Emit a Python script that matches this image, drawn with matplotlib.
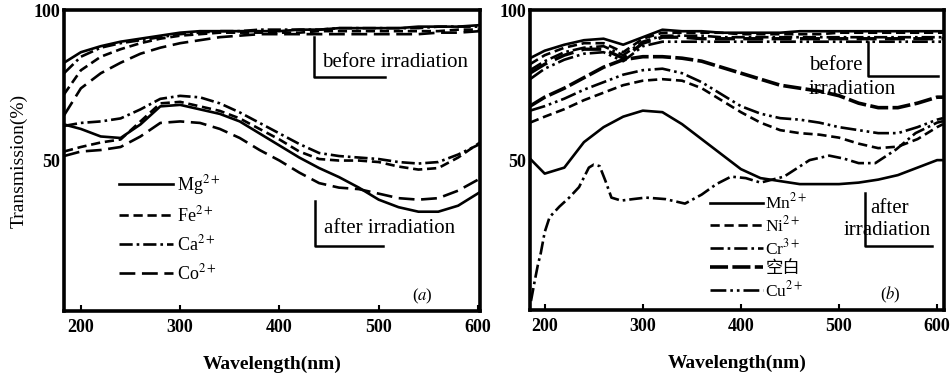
import numpy as np
import matplotlib
matplotlib.use("Agg")
import matplotlib.pyplot as plt

plt.rcParams['font.family'] = ['Liberation Serif', 'Noto Sans CJK SC']
plt.rcParams['mathtext.fontset'] = 'stix'

# ---- panel (a) ----
wl_a = [183, 200, 220, 240, 260, 280, 300, 320, 340, 360, 380, 400,
        420, 440, 460, 480, 500, 520, 540, 560, 580, 602]

# before irradiation
mg_before = [82.5, 86, 88, 89.5, 90.5, 91.5, 92.5, 93, 93, 93, 93, 93,
             93.5, 93.5, 94, 94, 94, 94, 94.5, 94.5, 94.5, 95]
fe_before = [72, 80, 84.5, 87, 89, 90.5, 91.5, 92, 92.5, 92.5, 92.5, 92.5,
             92.5, 93, 93, 93, 93, 93, 93, 93, 93.5, 93.5]
ca_before = [79, 84.5, 87.5, 89, 90, 91, 92, 92.5, 93, 93, 93.5, 93.5,
             93.5, 93.5, 94, 94, 94, 94, 94, 94.5, 94.5, 94.5]
co_before = [65, 74, 79, 82.5, 85.5, 87.5, 89, 90, 91, 91.5, 92, 92,
             92, 92, 92, 92, 92, 92, 92, 92.5, 92.5, 93]
# after irradiation
mg_after = [62, 60.5, 58, 57.5, 62, 68, 68.5, 67, 65.5, 63, 59, 55,
            51, 47.5, 44.5, 41, 37, 34.5, 33, 33, 35, 39.5]
fe_after = [53, 54.5, 56, 57, 63, 69, 69.5, 68, 66.5, 64, 60.5, 57,
            53, 50.5, 50, 50, 49.5, 48, 47, 47.5, 51, 56]
ca_after = [61.5, 62.5, 63, 64, 67, 70.5, 71.5, 71, 69, 66, 62.5, 59,
            55.5, 52.5, 51.5, 51, 50.5, 49.5, 49, 49.5, 52, 55.5]
co_after = [51.5, 53, 53.5, 54.5, 58, 62.5, 63, 62.5, 60.5, 57.5, 53.5, 50,
            46, 42.5, 41, 40.5, 39, 37.5, 37, 37.5, 40, 44]

# ---- panel (b) ----
wl_b = [185, 200, 220, 240, 260, 280, 300, 320, 340, 360, 380, 400,
        420, 440, 460, 480, 500, 520, 540, 560, 580, 600, 606]

b1_before = [84, 86.5, 88.5, 90, 90.5, 88.5, 91, 93.5, 93, 93, 92.5, 92.5,
             92.5, 92.5, 93, 93, 93, 93, 93, 93, 93, 93, 93]
b2_before = [82, 85, 87.5, 89, 89, 86, 90.5, 92.5, 92.5, 92.5, 92.5, 92,
             92, 92, 92, 92, 92.5, 92.5, 92.5, 92.5, 92.5, 92.5, 92.5]
b3_before = [80, 83, 86, 87.5, 88, 85, 89.5, 91.5, 91.5, 91.5, 91, 91,
             91, 91, 91, 91, 91, 91, 91, 91, 91, 91, 91]
b4_before = [79, 82, 85, 87, 87, 84, 89, 91, 91, 90.5, 90.5, 90.5,
             90.5, 90.5, 90.5, 90.5, 90.5, 90.5, 90.5, 90.5, 90.5, 90.5, 90.5]
b5_before = [77, 80.5, 83.5, 85.5, 86, 83, 88, 89.5, 89.5, 89.5, 89.5, 89.5,
             89.5, 89.5, 89.5, 89.5, 89.5, 89.5, 89.5, 89.5, 89.5, 89.5, 89.5]

mn_after = [50.5, 45.5, 47.5, 56, 61, 64.5, 66.5, 66, 62, 57, 52, 47,
            44, 43, 42, 42, 42, 42.5, 43.5, 45, 47.5, 50, 50]
ni_after = [62.5, 64.5, 67, 70, 72.5, 75, 76.5, 77, 76.5, 74, 70, 66,
            62.5, 60, 59, 58.5, 57.5, 55.5, 54, 54.5, 57, 61, 62]
blank_after = [68, 71, 74, 77.5, 81, 83.5, 84.5, 84.5, 84, 83, 81, 79,
               77, 75, 74, 73, 71.5, 69, 67.5, 67.5, 69, 71, 71]
cu_after = [66.5, 68, 70.5, 73.5, 76, 78.5, 80, 80.5, 79, 76, 72, 68,
            65.5, 64, 63.5, 62.5, 61, 60, 59, 59, 61, 63.5, 64]
wl_cr = [186, 190, 193, 196, 200, 205, 215, 225, 235, 245, 250, 256, 262, 268,
         278, 290, 303, 323, 343, 360, 375, 390, 405, 420, 444, 470, 490, 505,
         520, 537, 558, 578, 600, 606]
cr_after = [3, 10, 15, 19, 26, 31, 34.5, 37.5, 41, 47.5, 48.5, 48, 43, 37.5,
            36.5, 37, 37.5, 37, 35.5, 38.5, 42, 44.5, 44, 42.5, 44.5, 50, 51.5, 50.5,
            49, 49, 53.5, 59, 62.5, 63]

x_ticks = [200, 300, 400, 500, 600]
y_ticks = [50, 100]

solid = '-'
short_dash = (0, (3.5, 1.8))
dash_dot = (0, (5, 1.5, 1, 1.5))
long_dash = (0, (6, 2.5))
dash_dot_dot = (0, (6, 1.5, 1, 1.5, 1, 1.5))
lw = 1.9
col = 'black'

fig = plt.figure(figsize=(9.51, 3.79), dpi=100)
ax1 = fig.add_axes([0.0673, 0.1794, 0.4374, 0.794])
ax2 = fig.add_axes([0.5573, 0.1820, 0.4353, 0.791])


def style_axes(ax, xlim):
    ax.set_xlim(*xlim)
    ax.set_ylim(0, 100)
    ax.set_xticks(x_ticks)
    ax.set_yticks(y_ticks)
    for s in ax.spines.values():
        s.set_linewidth(2.6)
    ax.tick_params(axis='x', direction='in', length=4, width=1.5, pad=6)
    ax.tick_params(axis='y', direction='in', length=0, pad=3)
    for lab in ax.get_xticklabels() + ax.get_yticklabels():
        lab.set_fontweight('bold')
        lab.set_fontsize(13)
    ax.set_xlabel('Wavelength(nm)', fontsize=14, fontweight='bold', labelpad=14)


# panel (a)
ax1.plot(wl_a, mg_before, color=col, lw=lw, ls=solid)
ax1.plot(wl_a, fe_before, color=col, lw=lw, ls=short_dash)
ax1.plot(wl_a, ca_before, color=col, lw=lw, ls=dash_dot)
ax1.plot(wl_a, co_before, color=col, lw=lw, ls=long_dash)
ax1.plot(wl_a, mg_after, color=col, lw=lw, ls=solid, label='Mg$^{2+}$')
ax1.plot(wl_a, fe_after, color=col, lw=lw, ls=short_dash, label='Fe$^{2+}$')
ax1.plot(wl_a, ca_after, color=col, lw=lw, ls=dash_dot, label='Ca$^{2+}$')
ax1.plot(wl_a, co_after, color=col, lw=lw, ls=long_dash, label='Co$^{2+}$')
style_axes(ax1, (183, 602))
ax1.set_ylabel('Transmission(%)', fontsize=14, labelpad=4)
ax1.legend(loc='upper left', bbox_to_anchor=(0.11, 0.49), frameon=False,
           handlelength=3.0, handletextpad=0.2, labelspacing=0.5,
           borderpad=0, prop=dict(size=13))

# brackets and notes (a)
ax1.plot([435, 435, 506], [91, 77.7, 77.7], color=col, lw=1.8)
ax1.text(443, 82.7, 'before irradiation', fontsize=15, va='center')
ax1.plot([436, 436, 504], [36.7, 21.7, 21.7], color=col, lw=1.8)
ax1.text(445, 27.3, 'after irradiation', fontsize=15, va='center')
ax1.text(544, 5, '($a$)', fontsize=12, ha='center', va='center')

# panel (b)
ax2.plot(wl_b, b1_before, color=col, lw=lw, ls=solid)
ax2.plot(wl_b, b2_before, color=col, lw=lw, ls=short_dash)
ax2.plot(wl_b, b3_before, color=col, lw=lw, ls=dash_dot)
ax2.plot(wl_b, b4_before, color=col, lw=2.4, ls=long_dash)
ax2.plot(wl_b, b5_before, color=col, lw=lw, ls=dash_dot_dot)
ax2.plot(wl_b, mn_after, color=col, lw=lw, ls=solid, label='Mn$^{2+}$')
ax2.plot(wl_b, ni_after, color=col, lw=lw, ls=short_dash, label='Ni$^{2+}$')
ax2.plot(wl_cr, cr_after, color=col, lw=lw, ls=dash_dot, label='Cr$^{3+}$')
ax2.plot(wl_b, blank_after, color=col, lw=2.6, ls=(0, (5, 1.2)), label='空白')
ax2.plot(wl_b, cu_after, color=col, lw=lw, ls=dash_dot_dot, label='Cu$^{2+}$')
style_axes(ax2, (185, 607))
ax2.legend(loc='upper left', bbox_to_anchor=(0.415, 0.42), frameon=False,
           handlelength=3.0, handletextpad=0.15, labelspacing=0.16,
           borderpad=0, prop=dict(family=['Liberation Serif', 'Noto Sans CJK SC'], size=12.5))

ax2.plot([530, 530, 601], [89.5, 78, 78], color=col, lw=1.8)
ax2.text(469, 81.4, 'before', fontsize=15, va='center')
ax2.text(469, 73.6, 'irradiation', fontsize=15, va='center')
ax2.plot([527, 527, 595], [38.9, 21.3, 21.3], color=col, lw=1.8)
ax2.text(532, 34, 'after', fontsize=15, va='center')
ax2.text(505, 26.4, 'irradiation', fontsize=15, va='center')
ax2.text(552, 5, '($b$)', fontsize=12, ha='center', va='center')

fig.savefig('out.png', dpi=100)
